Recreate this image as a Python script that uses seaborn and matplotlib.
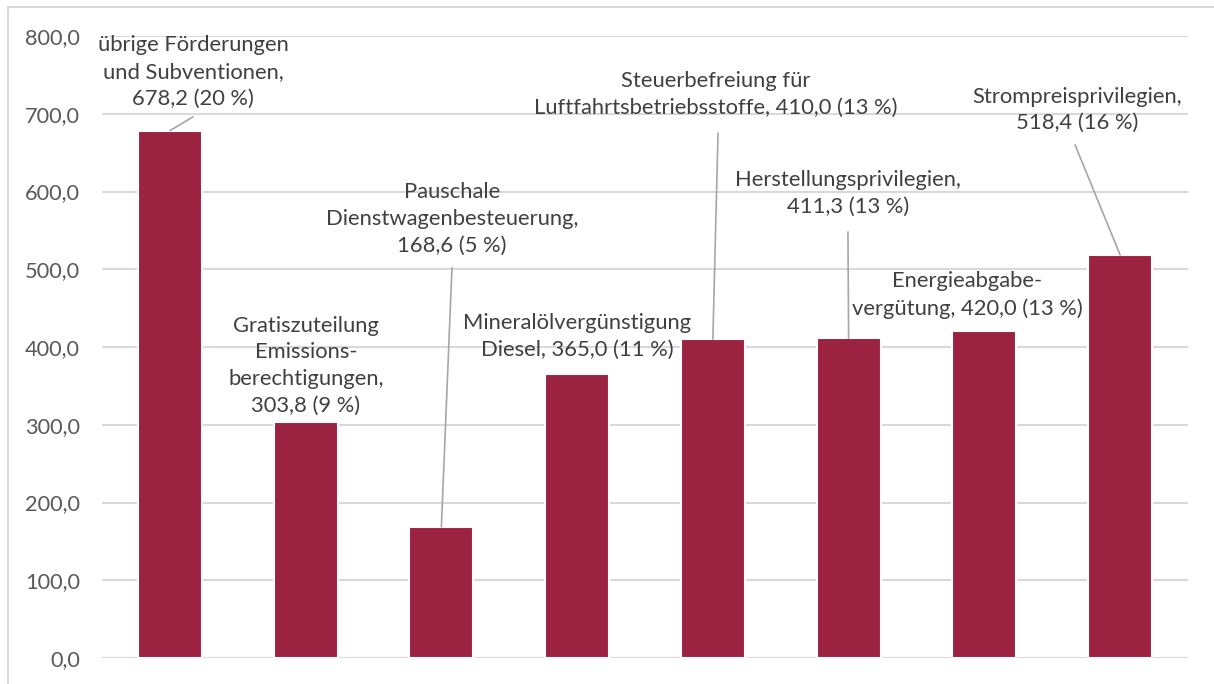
import matplotlib
matplotlib.use("Agg")
import matplotlib.pyplot as plt
from matplotlib.ticker import FuncFormatter, MultipleLocator
from matplotlib.lines import Line2D
import seaborn as sns
import pandas as pd

# Data
categories = [
    "übrige Förderungen und Subventionen",
    "Gratiszuteilung Emissionsberechtigungen",
    "Pauschale Dienstwagenbesteuerung",
    "Mineralölvergünstigung Diesel",
    "Steuerbefreiung für Luftfahrtsbetriebsstoffe",
    "Herstellungsprivilegien",
    "Energieabgabevergütung",
    "Strompreisprivilegien",
]
values = [678.2, 303.8, 168.6, 365.0, 410.0, 411.3, 420.0, 518.4]
shares = [20, 9, 5, 11, 13, 13, 13, 16]
label_names = [
    "übrige Förderungen\nund Subventionen,",
    "Gratiszuteilung\nEmissions-\nberechtigungen,",
    "Pauschale\nDienstwagenbesteuerung,",
    "Mineralölvergünstigung\nDiesel,",
    "Steuerbefreiung für\nLuftfahrtsbetriebsstoffe,",
    "Herstellungsprivilegien,",
    "Energieabgabe-\nvergütung,",
    "Strompreisprivilegien,",
]
# Whether the value goes on a new line after the name
value_newline = [True, True, True, False, False, True, False, True]

# Layout: label centres (x in category units, y in data units)
label_pos = [(0.17, 754), (1.003, 376), (2.078, 565), (2.999, 414),
             (4.023, 725), (4.995, 597), (5.872, 467), (6.682, 705)]
# Leader lines: label-side end point (None = no leader)
leader_start = [(0.17, 696), None, (2.078, 502), None,
                (4.038, 675), (4.995, 548), None, (6.668, 660)]

BAR = "#9C2241"
GRID = "#D9D9D9"
TXT = "#404040"

sns.set_theme(style="white")
plt.rcParams["font.family"] = ["Lato", "DejaVu Sans"]

fig = plt.figure(figsize=(12.14, 6.84), dpi=100)
ax = fig.add_axes([102 / 1214, 1 - 658 / 684, (1188 - 102) / 1214, (658 - 36) / 684])

df = pd.DataFrame({"cat": categories, "val": values})
sns.barplot(data=df, x="cat", y="val", color=BAR, saturation=1, width=0.47,
            edgecolor="white", linewidth=1.5, ax=ax, zorder=3)

ax.set_xlim(-0.5, len(categories) - 0.5)
ax.set_ylim(0, 800)
ax.yaxis.set_major_locator(MultipleLocator(100))
ax.yaxis.set_major_formatter(FuncFormatter(lambda v, _: f"{v:.1f}".replace(".", ",")))
ax.grid(axis="y", color=GRID, linewidth=1.5, zorder=0)
ax.grid(axis="x", visible=False)
ax.set_xticks([])
ax.set_xlabel("")
ax.set_ylabel("")
for s in ax.spines.values():
    s.set_visible(False)
ax.tick_params(axis="y", length=0, pad=16, labelsize=15.7, labelcolor="#595959")

def fmt(v):
    return f"{v:.1f}".replace(".", ",")

for i, (name, v, sh) in enumerate(zip(label_names, values, shares)):
    sep = "\n" if value_newline[i] else " "
    text = f"{name}{sep}{fmt(v)} ({sh}\u2005%)"
    x, y = label_pos[i]
    ax.text(x, y, text, ha="center", va="center", fontsize=15.8, color=TXT,
            linespacing=1.42, zorder=5)
    if leader_start[i] is not None:
        lx, ly = leader_start[i]
        ax.add_line(Line2D([lx, i], [ly, v], color="#A6A6A6", linewidth=1.2,
                           zorder=4, clip_on=False))

# Outer chart frame (left and top edges)
fig.add_artist(Line2D([8 / 1214, 8 / 1214], [0, 1 - 7 / 684], transform=fig.transFigure,
                      color=GRID, linewidth=1.5))
fig.add_artist(Line2D([8 / 1214, 1], [1 - 7 / 684, 1 - 7 / 684], transform=fig.transFigure,
                      color=GRID, linewidth=1.5))

fig.savefig("out.png", dpi=100, facecolor="white")
